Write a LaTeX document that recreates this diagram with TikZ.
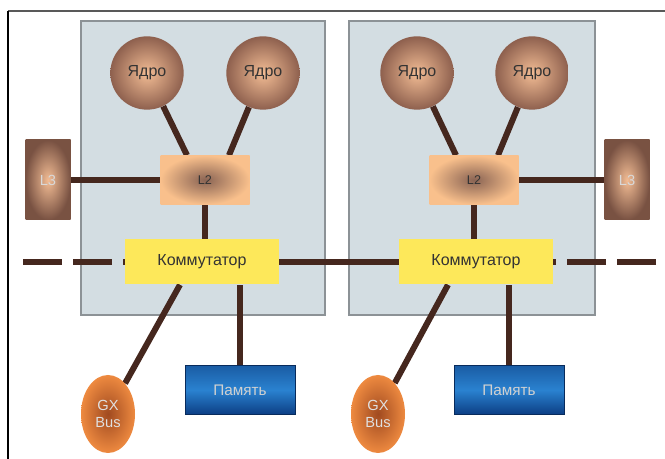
\documentclass[tikz,border=0pt]{standalone}
\usepackage{fontspec}
\setmainfont{Liberation Sans}
\usepackage{tikz}
\usetikzlibrary{backgrounds,calc,shapes.geometric}
\definecolor{chipfill}{HTML}{D3DDE2}
\definecolor{chipedge}{HTML}{8C9296}
\definecolor{wirebrown}{HTML}{45271E}
\definecolor{corein}{HTML}{F2BC94}
\definecolor{coreout}{HTML}{8E604E}
\definecolor{ltwoin}{HTML}{8A6454}
\definecolor{ltwoout}{HTML}{F9C08C}
\definecolor{switchfill}{HTML}{FDE85A}
\definecolor{gxin}{HTML}{A04A20}
\definecolor{gxout}{HTML}{EE8A40}
\definecolor{memtop}{HTML}{1A5CA4}
\definecolor{memmid}{HTML}{2A82D0}
\definecolor{membot}{HTML}{0C3E84}

\begin{document}
\begin{tikzpicture}[x=0.75pt,y=-0.75pt,
  chip/.style={fill=chipfill,draw=chipedge,line width=0.8pt},
  core/.style={circle,minimum size=55pt,inner sep=0pt,inner color=corein,outer color=coreout,text=black!80,font=\fontsize{12}{14}\selectfont},
  ltwo/.style={rectangle,minimum width=66.75pt,minimum height=36.75pt,inner color=ltwoin,outer color=ltwoout,text=black!80,font=\fontsize{9.5}{11}\selectfont},
  lthree/.style={rectangle,minimum width=33.75pt,minimum height=60pt,inner color=corein,outer color=coreout!85!black,text=black!15,font=\fontsize{11}{13}\selectfont},
  switchbox/.style={rectangle,minimum width=115.5pt,minimum height=33.75pt,fill=switchfill,text=black!80,font=\fontsize{12}{14}\selectfont},
  gxbus/.style={ellipse,minimum width=40.5pt,minimum height=58.5pt,inner sep=0pt,inner color=gxin,outer color=gxout,text=black!12,align=center,font=\fontsize{11}{13}\selectfont},
  membox/.style={rectangle,minimum width=82.5pt,minimum height=36.75pt,top color=memtop,bottom color=membot,middle color=memmid,draw=membot!70!black,line width=0.6pt,text=black!18,font=\fontsize{11.5}{13}\selectfont},
  wire/.style={draw=wirebrown,line width=4.5pt},
  busdash/.style={dash pattern=on 29.25pt off 8.25pt}]
\useasboundingbox (0,0) rectangle (665,459);
\draw[black!65,line width=1.5pt] (8,11) -- (665,11);
\draw[black,line width=1pt] (8,11) -- (8,459);

\node[core] (corea) at (147,73) {Ядро};
\node[core] (coreb) at (263,73) {Ядро};
\node[core] (corec) at (417,73) {Ядро};
\node[core] (cored) at (532,73) {Ядро};
\node[ltwo] (ltwoa) at (205,180) {L2};
\node[ltwo] (ltwob) at (474,180) {L2};
\node[lthree] (lthreea) at (48,180) {L3};
\node[lthree] (lthreeb) at (627,180) {L3};
\node[switchbox] (swa) at (202,262) {Коммутатор};
\node[switchbox] (swb) at (476,262) {Коммутатор};
\node[gxbus] (gxa) at (108,414) {GX\\Bus};
\node[gxbus] (gxb) at (378,414) {GX\\Bus};
\node[membox] (mema) at (240,390) {Память};
\node[membox] (memb) at (509,390) {Память};
\coordinate (busl) at (23,262);
\coordinate (busr) at (656,262);

\begin{scope}[on background layer]
\fill[white] (0,0) rectangle (665,459);
\draw[chip] (81,21) rectangle (325,315);
\draw[chip] (349,21) rectangle (595,315);
\draw[wire] (corea) -- ($(ltwoa.north)+(-18,0)$);
\draw[wire] (coreb) -- ($(ltwoa.north)+(24,0)$);
\draw[wire] (corec) -- ($(ltwob.north)+(-18,0)$);
\draw[wire] (cored) -- ($(ltwob.north)+(24,0)$);
\draw[wire] (lthreea) -- (ltwoa);
\draw[wire] (lthreeb) -- (ltwob);
\draw[wire] (ltwoa.south) -- (ltwoa.south |- swa.north);
\draw[wire] (ltwob.south) -- (ltwob.south |- swb.north);
\draw[wire] (swa) -- (swb);
\draw[wire,busdash] (busl) -- (swa.west);
\draw[wire,busdash] (busr) -- (swb.east);
\draw[wire] ($(swa.south)+(-22,0)$) -- (gxa);
\draw[wire] ($(swb.south)+(-28,0)$) -- (gxb);
\draw[wire] (mema.north) -- (mema.north |- swa.south);
\draw[wire] (memb.north) -- (memb.north |- swb.south);
\end{scope}
\end{tikzpicture}
\end{document}
